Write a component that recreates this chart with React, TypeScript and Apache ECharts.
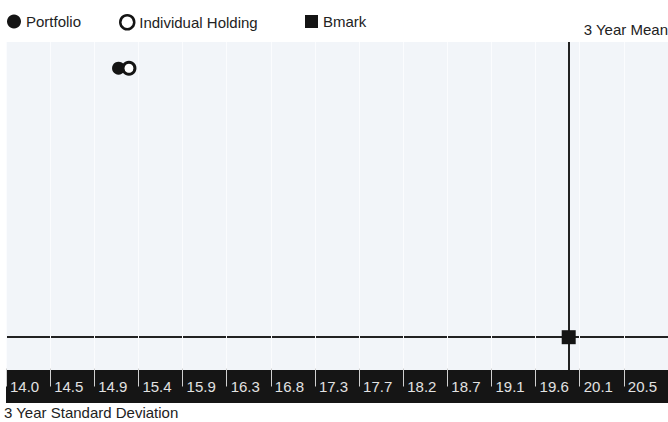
import React, { useEffect, useRef } from "react";
import * as echarts from "echarts";

// ---- data ----
const seriesNames = ["Portfolio", "Individual Holding", "Bmark"];
// [3 Year Standard Deviation, 3 Year Mean]
const portfolioPoints = [[15.19, 15.2]];
const holdingPoints = [[15.3, 15.2]];
const bmarkPoints = [[19.95, 7.0]];
// axis ranges
const xRange = [14, 21];
const xStep = 7 / 15;
const yRange = [6, 16];
const xAxisTitle = "3 Year Standard Deviation";
const yAxisTitle = "3 Year Mean";

const FONT = "'Liberation Sans', Arial, sans-serif";
const FS = 15;
const INK = "#141414";
const BAND = "#151515";

export default function App() {
  const ref = useRef<HTMLDivElement>(null);
  useEffect(() => {
    if (!ref.current) return;
    const chart = echarts.init(ref.current, null, { renderer: "svg" });
    const legendText = { fontFamily: FONT, fontSize: FS, color: "#222" };
    const option: any = {
      animation: false,
      backgroundColor: "#ffffff",
      textStyle: { fontFamily: FONT },
      title: {
        text: xAxisTitle,
        left: 4,
        top: 405,
        padding: 0,
        textStyle: { fontFamily: FONT, fontSize: FS, fontWeight: "normal", color: "#222" },
      },
      legend: [
        {
          data: [seriesNames[0]],
          left: 7,
          top: 14,
          padding: 0,
          itemWidth: 14,
          itemHeight: 14,
          icon: "circle",
          itemStyle: { color: INK, opacity: 1 },
          textStyle: legendText,
        },
        {
          data: [seriesNames[1]],
          left: 119,
          top: 14,
          padding: 0,
          itemWidth: 14,
          itemHeight: 14,
          icon: "circle",
          itemStyle: { color: "#ffffff", borderColor: INK, borderWidth: 2.5, opacity: 1 },
          textStyle: legendText,
        },
        {
          data: [seriesNames[2]],
          left: 305,
          top: 14,
          padding: 0,
          itemWidth: 13,
          itemHeight: 13,
          icon: "rect",
          itemStyle: { color: INK, opacity: 1 },
          textStyle: legendText,
        },
      ],
      grid: {
        left: 6,
        right: 0,
        top: 42,
        bottom: 52,
        outerBoundsMode: "none",
        containLabel: false,
        show: true,
        backgroundColor: "#f2f5f9",
        borderWidth: 0,
      },
      xAxis: {
        type: "value",
        min: xRange[0],
        max: xRange[1],
        interval: xStep,
        offset: 16.5,
        z: 10,
        axisLine: { show: true, lineStyle: { color: BAND, width: 33, cap: "butt" } },
        axisTick: { show: true, inside: true, length: 18, lineStyle: { color: "#d0d0d0", width: 1 } },
        axisLabel: {
          formatter: (v: number) => (v > xRange[1] - xStep / 2 ? "" : v.toFixed(1)),
          align: "left",
          verticalAlign: "middle",
          margin: 0,
          padding: [0, 0, 0, 4],
          color: "#e2e2e2",
          fontFamily: FONT,
          fontSize: FS,
        },
        splitLine: { show: true, lineStyle: { color: "#fbfcfe", width: 1 } },
      },
      yAxis: {
        type: "value",
        min: yRange[0],
        max: yRange[1],
        position: "right",
        name: yAxisTitle,
        nameLocation: "end",
        nameGap: 5,
        nameTextStyle: { align: "right", verticalAlign: "bottom", fontFamily: FONT, fontSize: FS, color: "#222" },
        axisLine: { show: false },
        axisTick: { show: false },
        axisLabel: { show: false },
        splitLine: { show: false },
      },
      series: [
        {
          name: seriesNames[2],
          type: "scatter",
          symbol: "rect",
          symbolSize: 14,
          z: 5,
          itemStyle: { color: INK, opacity: 1 },
          data: bmarkPoints,
          markLine: {
            silent: true,
            symbol: ["none", "none"],
            label: { show: false },
            lineStyle: { color: "#222", width: 2, type: "solid", opacity: 1 },
            data: [{ xAxis: bmarkPoints[0][0] }, { yAxis: bmarkPoints[0][1] }],
          },
        },
        {
          name: seriesNames[0],
          type: "scatter",
          symbol: "circle",
          symbolSize: 13,
          z: 5,
          itemStyle: { color: INK, opacity: 1 },
          data: portfolioPoints,
        },
        {
          name: seriesNames[1],
          type: "scatter",
          symbol: "circle",
          symbolSize: 12,
          z: 6,
          itemStyle: { color: "#ffffff", borderColor: INK, borderWidth: 3, opacity: 1 },
          data: holdingPoints,
        },
      ],
    };
    chart.setOption(option);
    return () => chart.dispose();
  }, []);
  return (
    <div
      ref={ref}
      style={{ position: "fixed", left: 0, top: 0, width: 668, height: 422 }}
    />
  );
}
